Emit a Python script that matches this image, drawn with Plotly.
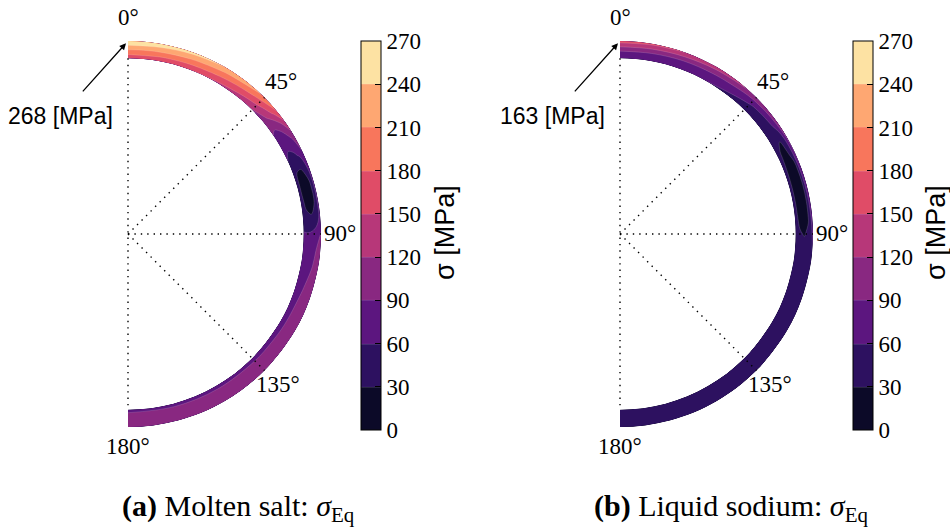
import numpy as np
import plotly.graph_objects as go

# ---------------- data ----------------
# normalised radius across the tube wall (inner -> outer)
radius = [0.91, 0.9325, 0.955, 0.9775, 1.0]
# angular position (degrees, clockwise from the top of the tube)
angle_deg = [0, 10, 20, 30, 40, 45, 50, 55, 60, 65, 70, 75, 80, 85, 90,
             95, 100, 110, 120, 135, 150, 165, 180]

# equivalent stress [MPa]; one row per angle, one column per radius
salt_stress = [
    [155, 183, 211, 240, 268],
    [154, 181, 208, 236, 263],
    [151, 176, 201, 226, 252],
    [146, 168, 190, 214, 240],
    [130, 150, 172, 196, 222],
    [119, 138, 158, 180, 205],
    [106, 118, 134, 155, 182],
    [92, 88, 95, 112, 140],
    [82, 72, 75, 85, 102],
    [62, 50, 55, 65, 88],
    [48, 30, 27, 38, 75],
    [42, 22, 18, 26, 70],
    [45, 25, 20, 28, 70],
    [48, 36, 33, 42, 70],
    [62, 62, 66, 76, 92],
    [66, 72, 80, 90, 102],
    [68, 76, 84, 93, 104],
    [72, 84, 94, 104, 112],
    [74, 88, 98, 106, 113],
    [77, 92, 101, 108, 113],
    [79, 93, 102, 108, 112],
    [80, 94, 103, 108, 111],
    [80, 94, 103, 108, 111],
]

sodium_stress = [
    [65, 78, 96, 132, 163],
    [64, 77, 94, 128, 159],
    [62, 74, 90, 120, 150],
    [60, 70, 84, 110, 137],
    [60, 60, 72, 96, 124],
    [58, 52, 62, 86, 116],
    [55, 46, 54, 78, 110],
    [52, 40, 46, 70, 104],
    [50, 34, 30, 45, 98],
    [48, 27, 24, 34, 93],
    [46, 22, 19, 26, 89],
    [45, 20, 17, 22, 85],
    [44, 21, 17, 23, 80],
    [43, 24, 20, 27, 74],
    [42, 33, 28, 36, 66],
    [42, 40, 40, 44, 60],
    [42, 42, 43, 46, 56],
    [42, 43, 44, 46, 52],
    [42, 43, 44, 46, 50],
    [42, 43, 44, 45, 48],
    [42, 43, 44, 45, 47],
    [42, 43, 44, 45, 47],
    [42, 43, 44, 45, 47],
]

levels = list(range(0, 271, 30))
peak_labels = ["268 [MPa]", "163 [MPa]"]
captions = ["<b>(a)</b> Molten salt: <i>σ</i><sub>Eq</sub>",
            "<b>(b)</b> Liquid sodium: <i>σ</i><sub>Eq</sub>"]
label_angles = [0, 45, 90, 135, 180]
guide_angles = [45, 90, 135]

# ---------------- styling ----------------
band_colors = ["#0c0a28", "#2d1160", "#5c167f", "#892881", "#b73779",
               "#e04c67", "#f8765c", "#fea772", "#fde2a3"]
colorscale = []
for i, c in enumerate(band_colors):
    colorscale.append([i / 9, c])
    colorscale.append([(i + 1) / 9, c])

SERIF = "Liberation Serif, Times New Roman, Times, serif"
SANS = "Liberation Sans, Arial, sans-serif"
W, H = 950, 527

fig = go.Figure()

th = np.radians(angle_deg)[:, None]
rr = np.array(radius)[None, :]
X = (rr * np.sin(th)).tolist()
Y = (rr * np.cos(th)).tolist()

panels = [
    dict(data=salt_stress, xa="x", ya="y", cid="salt", cbx=361 / W),
    dict(data=sodium_stress, xa="x2", ya="y2", cid="sodium", cbx=853 / W),
]

carpet_axis = dict(showgrid=False, showline=False, startline=False, endline=False,
                   showticklabels="none", minorgridcount=0,
                   gridcolor="rgba(0,0,0,0)", linecolor="rgba(0,0,0,0)")

for p in panels:
    fig.add_trace(go.Carpet(a=radius, b=angle_deg, x=X, y=Y, carpet=p["cid"],
                            xaxis=p["xa"], yaxis=p["ya"],
                            aaxis=carpet_axis, baxis=carpet_axis))
    fig.add_trace(go.Contourcarpet(
        carpet=p["cid"], a=radius, b=angle_deg, z=p["data"],
        xaxis=p["xa"], yaxis=p["ya"],
        autocontour=False,
        contours=dict(start=0, end=270, size=30, coloring="fill", showlines=True),
        line=dict(width=0.6, color="rgba(255,255,255,0.25)"),
        colorscale=colorscale, zmin=0, zmax=270,
        colorbar=dict(x=p["cbx"], xanchor="left", y=1 - 235.5 / H, yanchor="middle",
                      len=389 / H, lenmode="fraction", thickness=20,
                      xpad=0, ypad=0, outlinewidth=1, outlinecolor="black",
                      tickmode="array", tickvals=levels, ticks="inside",
                      ticklen=6, tickcolor="black",
                      tickfont=dict(family=SERIF, size=23, color="black")),
    ))
    # dotted guide lines
    r_in = radius[0]
    fig.add_trace(go.Scatter(x=[0, 0], y=[r_in, -r_in], mode="lines",
                             xaxis=p["xa"], yaxis=p["ya"], hoverinfo="skip",
                             line=dict(color="black", width=1.4, dash="1.4px,5px")))
    for g in guide_angles:
        t = np.radians(g)
        fig.add_trace(go.Scatter(x=[0, radius[-1] * np.sin(t)], y=[0, radius[-1] * np.cos(t)],
                                 mode="lines", xaxis=p["xa"], yaxis=p["ya"], hoverinfo="skip",
                                 line=dict(color="black", width=1.4, dash="1.4px,5px")))

# axes: 1 data unit = 193 px, tube centres at (128,234) and (620,234)
R = 193.0
def xdom(cx):
    return [(cx - 0.6 * R) / W, (cx + 1.2 * R) / W]
ydom = [1 - (234 + 1.2 * R) / H, 1 - (234 - 1.2 * R) / H]
ax_common = dict(visible=False, showgrid=False, zeroline=False)
fig.update_layout(
    width=W, height=H, margin=dict(l=0, r=0, t=0, b=0),
    paper_bgcolor="white", plot_bgcolor="white", showlegend=False,
    xaxis=dict(domain=xdom(128), range=[-0.6, 1.2], **ax_common),
    yaxis=dict(domain=ydom, range=[-1.2, 1.2], **ax_common),
    xaxis2=dict(domain=xdom(620), range=[-0.6, 1.2], **ax_common),
    yaxis2=dict(domain=ydom, range=[-1.2, 1.2], **ax_common),
)

annotations = []
label_radius = [1.12, 1.12, 1.10, 1.10, 1.10]
for k, p in enumerate(panels):
    for a, lr in zip(label_angles, label_radius):
        t = np.radians(a)
        annotations.append(dict(x=lr * np.sin(t), y=lr * np.cos(t), xref=p["xa"], yref=p["ya"],
                                text=f"{a}°", showarrow=False, xanchor="center", yanchor="middle",
                                font=dict(family=SERIF, size=23, color="black")))
    annotations.append(dict(x=0, y=radius[-1], xref=p["xa"], yref=p["ya"],
                            ax=-0.35, ay=0.61, axref=p["xa"], ayref=p["ya"],
                            text=peak_labels[k], showarrow=True, arrowhead=2,
                            arrowsize=1, arrowwidth=1.3, arrowcolor="black",
                            standoff=3, startstandoff=14,
                            font=dict(family=SANS, size=23, color="black")))
    annotations.append(dict(x=(445 if k == 0 else 936) / W, y=1 - 233 / H,
                            xref="paper", yref="paper", text="σ [MPa]", textangle=-90,
                            showarrow=False, xanchor="center", yanchor="middle",
                            font=dict(family=SANS, size=27, color="black")))
    annotations.append(dict(x=(238 if k == 0 else 731) / W, y=1 - 508 / H,
                            xref="paper", yref="paper", text=captions[k],
                            showarrow=False, xanchor="center", yanchor="middle",
                            font=dict(family=SERIF, size=30, color="black")))
fig.update_layout(annotations=annotations)

fig.write_html("out.html")
